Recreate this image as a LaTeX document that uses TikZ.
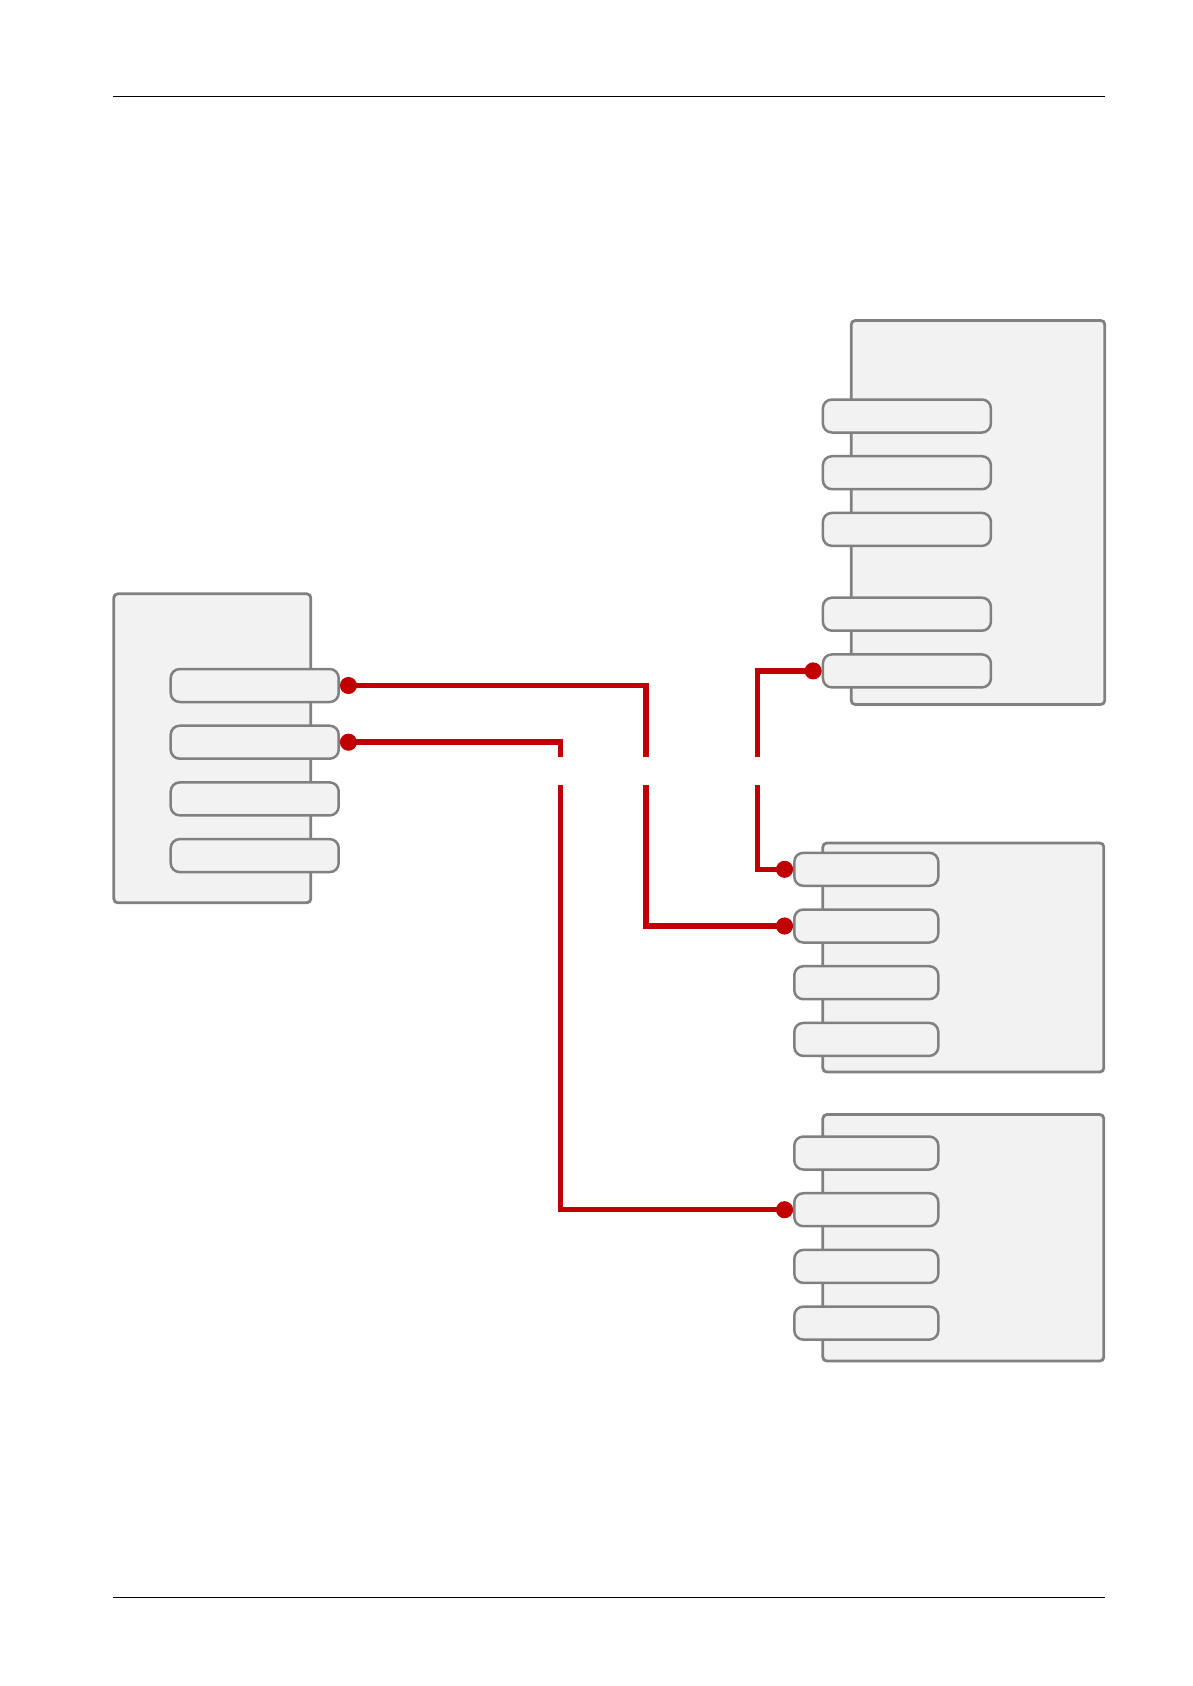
\documentclass[tikz,border=0pt]{standalone}
\usetikzlibrary{positioning,arrows.meta}
\definecolor{wirered}{RGB}{192,0,0}
\definecolor{boxgray}{RGB}{128,128,128}
\definecolor{boxfill}{RGB}{242,242,242}

\begin{document}
\begin{tikzpicture}[x=1pt, y=-1pt, node distance=21.2pt,
  block/.style={draw=boxgray, fill=boxfill, line width=2.8pt, rounded corners=4pt, inner sep=0pt},
  port/.style={draw=boxgray, fill=boxfill, line width=2.5pt, rounded corners=9pt, inner sep=0pt, minimum height=33pt},
  wire/.style={draw=wirered, line width=5.5pt, {Circle[length=17pt]}-{Circle[length=17pt]}}]
\useasboundingbox (0,0) rectangle (1193,1686);
\draw[line width=1pt] (113,96) -- (1105,96);
\draw[line width=1pt] (113,1597) -- (1105,1597);

% left block
\node[block, minimum width=197pt, minimum height=309pt] (src) at (212.3,748.3) {};
\node[port, minimum width=168pt] (sp1) at (254.7,685.5) {};
\node[port, minimum width=168pt, below=of sp1] (sp2) {};
\node[port, minimum width=168pt, below=of sp2] (sp3) {};
\node[port, minimum width=168pt, below=of sp3] (sp4) {};

% top right block
\node[block, minimum width=253.5pt, minimum height=384pt] (tgt) at (978,512.5) {};
\node[port, minimum width=168pt] (tp1) at (906.9,416) {};
\node[port, minimum width=168pt, below=of tp1] (tp2) {};
\node[port, minimum width=168pt, below=of tp2] (tp3) {};
\node[port, minimum width=168pt, below=49.3pt of tp3] (tp4) {};
\node[port, minimum width=168pt, below=of tp4] (tp5) {};

% middle block
\node[block, minimum width=281pt, minimum height=229pt] (mid) at (963.3,957.5) {};
\node[port, minimum width=144pt] (mp1) at (866.3,869.3) {};
\node[port, minimum width=144pt, below=of mp1] (mp2) {};
\node[port, minimum width=144pt, below=of mp2] (mp3) {};
\node[port, minimum width=144pt, below=of mp3] (mp4) {};

% bottom block
\node[block, minimum width=281pt, minimum height=246.5pt] (bot) at (963.3,1237.8) {};
\node[port, minimum width=144pt] (bp1) at (866.3,1153) {};
\node[port, minimum width=144pt, below=of bp1] (bp2) {};
\node[port, minimum width=144pt, below=of bp2] (bp3) {};
\node[port, minimum width=144pt, below=of bp3] (bp4) {};

% wires
\coordinate (jA) at (646,0);
\coordinate (jB) at (560.7,0);
\coordinate (jC) at (757.3,0);
\draw[wire] (sp1.east) -- (sp1.east -| jA) -- (mp2.west -| jA) -- (mp2.west);
\draw[wire] (sp2.east) -- (sp2.east -| jB) -- (bp2.west -| jB) -- (bp2.west);
\draw[wire] (tp5.west) -- (tp5.west -| jC) -- (mp1.west -| jC) -- (mp1.west);
\fill[white] (540,757) rectangle (780,785);
\end{tikzpicture}
\end{document}
